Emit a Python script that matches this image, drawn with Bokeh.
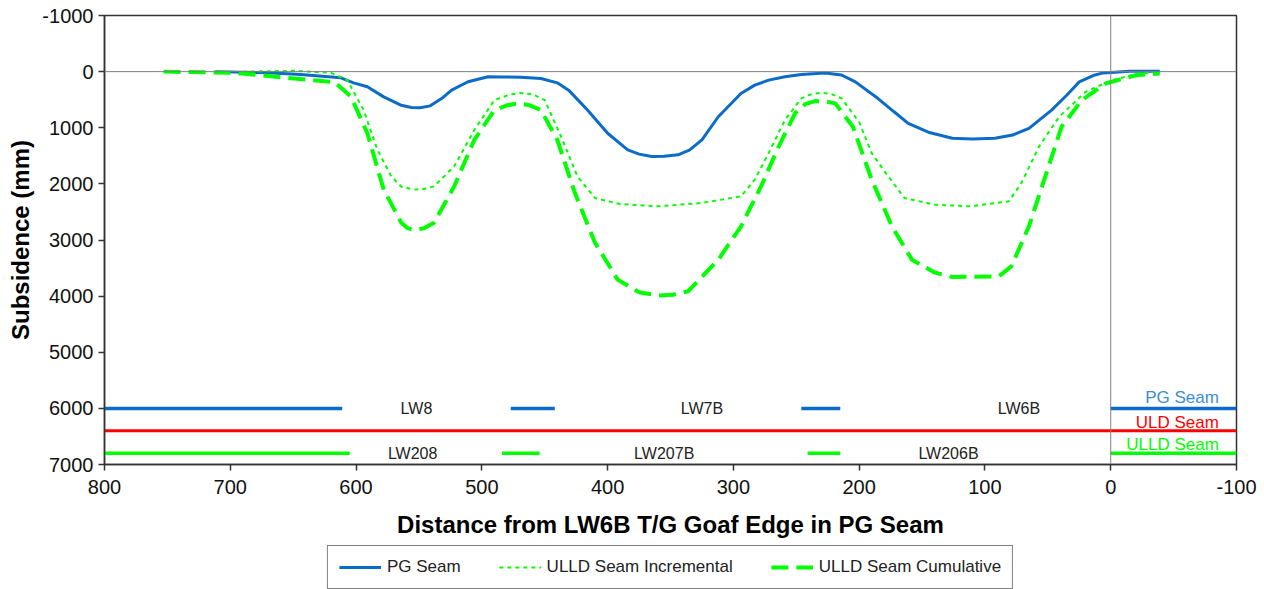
from bokeh.plotting import figure
from bokeh.layouts import column
from bokeh.models import Range1d, FixedTicker, Span, Legend, LegendItem
from bokeh.core.properties import value
from bokeh.embed import file_html
from bokeh.resources import INLINE

# ---------------- data ----------------
pg_x = [712, 670, 644, 612, 602, 591, 578, 564, 556, 549, 541, 532, 524, 511, 495, 484, 469, 453,
        440, 431, 416, 400, 384, 375, 365, 355, 344, 335, 325, 312, 294, 283, 272, 259, 246, 227,
        214, 203, 185, 172, 161, 145, 126, 110, 92, 78, 65, 47, 35, 25, 14, 6, -15, -39]
pg_y = [0, 20, 50, 110, 200, 270, 450, 600, 640, 645, 610, 480, 330, 180, 90, 94, 100, 122,
        200, 330, 685, 1098, 1394, 1470, 1513, 1508, 1483, 1400, 1217, 804, 389, 240, 152, 90, 52,
        23, 60, 183, 480, 720, 921, 1080, 1187, 1200, 1187, 1130, 1010, 685, 420, 183, 70, 23,
        -7, -7]

inc_x = [690, 649, 620, 607, 594, 583, 572, 564, 554, 546, 538, 522, 506, 490, 478, 470, 460, 450,
         437, 424, 410, 390, 360, 325, 294, 283, 272, 259, 246, 238, 230, 222, 214, 200, 190, 179,
         164, 140, 113, 81, 71, 57, 41, 20, -1, -22, -39]
inc_y = [0, -15, 20, 150, 685, 1394, 1866, 2050, 2103, 2090, 2044, 1689, 1040, 507, 410, 380,
         400, 507, 1158, 1867, 2252, 2360, 2400, 2340, 2222, 1926, 1453, 862, 477, 400, 378, 400,
         477, 900, 1453, 1800, 2252, 2370, 2400, 2311, 1985, 1335, 804, 360, 152, 34, 0]

cum_x = [753, 697, 657, 617, 604, 591, 578, 564, 559, 554, 546, 538, 522, 506, 490, 480, 471, 462,
         453, 440, 426, 410, 392, 375, 360, 348, 336, 312, 294, 278, 264, 251, 243, 235, 227, 219,
         205, 190, 174, 158, 140, 126, 89, 79, 65, 52, 39, 23, 4, -20, -39]
cum_y = [0, 20, 105, 190, 448, 1098, 2103, 2694, 2790, 2825, 2790, 2694, 2044, 1217, 685, 600,
         566, 600, 685, 1217, 2163, 3050, 3706, 3930, 3990, 3975, 3913, 3352, 2760, 2044, 1335, 744,
         580, 525, 530, 566, 981, 1926, 2754, 3352, 3580, 3660, 3648, 3470, 2754, 1867, 981, 507,
         211, 64, 34]

# longwall panel extents (from / to) per seam
pg_panel_start = [800, 477, 246, 0]
pg_panel_end = [611, 442, 215, -100]
pg_level = 6000
uld_panel_start = [800]
uld_panel_end = [-100]
uld_level = 6400
ulld_panel_start = [800, 484, 241, 0]
ulld_panel_end = [605, 454, 215, -100]
ulld_level = 6800

pg_panel_names = ["LW8", "LW7B", "LW6B"]
pg_panel_name_x = [552, 325, 73]
ulld_panel_names = ["LW208", "LW207B", "LW206B"]
ulld_panel_name_x = [555, 355, 129]

seam_names = ["PG Seam", "ULD Seam", "ULLD Seam"]
seam_name_x = -86
seam_name_y = [5811, 6250, 6635]

x_ticks = [800, 700, 600, 500, 400, 300, 200, 100, 0, -100]
y_ticks = [-1000, 0, 1000, 2000, 3000, 4000, 5000, 6000, 7000]

legend_labels = ["PG Seam", "ULLD Seam Incremental", "ULLD Seam Cumulative"]

BLUE = "#0A6CC8"
BLUE_TXT = "#3A8DDB"
GREEN = "#00FF00"
RED = "#FF0000"
FONT = "Liberation Sans"

W = 1264
LEFT = 104
RIGHT = 28

p = figure(width=W, height=540, output_backend="svg", toolbar_location=None,
           x_range=Range1d(800, -100), y_range=Range1d(7000, -1000),
           min_border_left=LEFT, min_border_right=RIGHT, min_border_top=15, min_border_bottom=10)
p.xgrid.visible = False
p.ygrid.visible = False
p.outline_line_color = "#333333"
p.outline_line_width = 1.5

p.add_layout(Span(location=0, dimension="width", line_color="#808080", line_width=1))
p.add_layout(Span(location=0, dimension="height", line_color="#808080", line_width=1))

p.line(pg_x, pg_y, line_color=BLUE, line_width=3)
p.line(inc_x, inc_y, line_color=GREEN, line_width=2, line_dash="4 4")
p.line(cum_x, cum_y, line_color=GREEN, line_width=4, line_dash="17 8")

p.segment(x0=pg_panel_start, x1=pg_panel_end, y0=[pg_level] * len(pg_panel_start),
          y1=[pg_level] * len(pg_panel_start), line_color=BLUE, line_width=3.5)
p.segment(x0=uld_panel_start, x1=uld_panel_end, y0=[uld_level] * len(uld_panel_start),
          y1=[uld_level] * len(uld_panel_start), line_color=RED, line_width=3)
p.segment(x0=ulld_panel_start, x1=ulld_panel_end, y0=[ulld_level] * len(ulld_panel_start),
          y1=[ulld_level] * len(ulld_panel_start), line_color=GREEN, line_width=3.5)

p.text(x=pg_panel_name_x, y=[pg_level] * 3, text=pg_panel_names, text_font=value(FONT),
       text_font_size=value("16px"), text_align="center", text_baseline="middle", text_color="#222222")
p.text(x=ulld_panel_name_x, y=[ulld_level] * 3, text=ulld_panel_names, text_font=value(FONT),
       text_font_size=value("16px"), text_align="center", text_baseline="middle", text_color="#222222")

for name, yy, col in zip(seam_names, seam_name_y, [BLUE_TXT, RED, GREEN]):
    p.text(x=[seam_name_x], y=[yy], text=[name], text_font=value(FONT),
           text_font_size=value("17px"), text_align="right", text_baseline="middle", text_color=col)

for ax in (p.xaxis[0], p.yaxis[0]):
    ax.major_label_text_font = FONT
    ax.major_label_text_font_size = "20px"
    ax.major_label_text_color = "#111111"
    ax.axis_label_text_font = FONT
    ax.axis_label_text_font_size = "24px"
    ax.axis_label_text_font_style = "bold"
    ax.axis_label_text_color = "#000000"
    ax.axis_line_color = "#333333"
    ax.axis_line_width = 1.5
    ax.major_tick_line_color = "#333333"
    ax.major_tick_line_width = 1.5
    ax.major_tick_in = 0
    ax.major_tick_out = 6
    ax.minor_tick_in = 0
    ax.minor_tick_out = 0

p.xaxis.ticker = FixedTicker(ticks=x_ticks)
p.yaxis.ticker = FixedTicker(ticks=y_ticks)
p.xaxis.major_label_overrides = {t: str(t) for t in x_ticks}
p.yaxis.major_label_overrides = {t: str(t) for t in y_ticks}
p.xaxis.axis_label = "Distance from LW6B T/G Goaf Edge in PG Seam"
p.yaxis.axis_label = "Subsidence (mm)"
p.xaxis.major_label_standoff = 9
p.xaxis.axis_label_standoff = 14
p.yaxis.major_label_standoff = 5
p.yaxis.axis_label_standoff = 5

# ---- legend strip (series drawn out of view so only the legend shows) ----
q = figure(width=W, height=49, output_backend="svg", toolbar_location=None,
           x_range=Range1d(5000, 6000), y_range=Range1d(50000, 60000),
           min_border_left=LEFT, min_border_right=RIGHT, min_border_top=0, min_border_bottom=0)
q.xaxis.visible = False
q.yaxis.visible = False
q.xgrid.visible = False
q.ygrid.visible = False
q.outline_line_color = None
l_pg = q.line(pg_x, pg_y, line_color=BLUE, line_width=3)
l_inc = q.line(inc_x, inc_y, line_color=GREEN, line_width=2, line_dash="4 4")
l_cum = q.line(cum_x, cum_y, line_color=GREEN, line_width=4, line_dash="17 8")

legend = Legend(items=[LegendItem(label=legend_labels[0], renderers=[l_pg]),
                       LegendItem(label=legend_labels[1], renderers=[l_inc]),
                       LegendItem(label=legend_labels[2], renderers=[l_cum])],
                orientation="horizontal", location="top_center")
legend.label_text_font = FONT
legend.label_text_font_size = "17px"
legend.label_text_color = "#222222"
legend.glyph_width = 42
legend.label_standoff = 6
legend.spacing = 38
legend.padding = 11
legend.margin = 5
legend.border_line_color = "#000000"
legend.border_line_width = 1
q.add_layout(legend, "center")

layout = column(p, q, spacing=0)
open("out.html", "w").write(file_html(layout, INLINE))
